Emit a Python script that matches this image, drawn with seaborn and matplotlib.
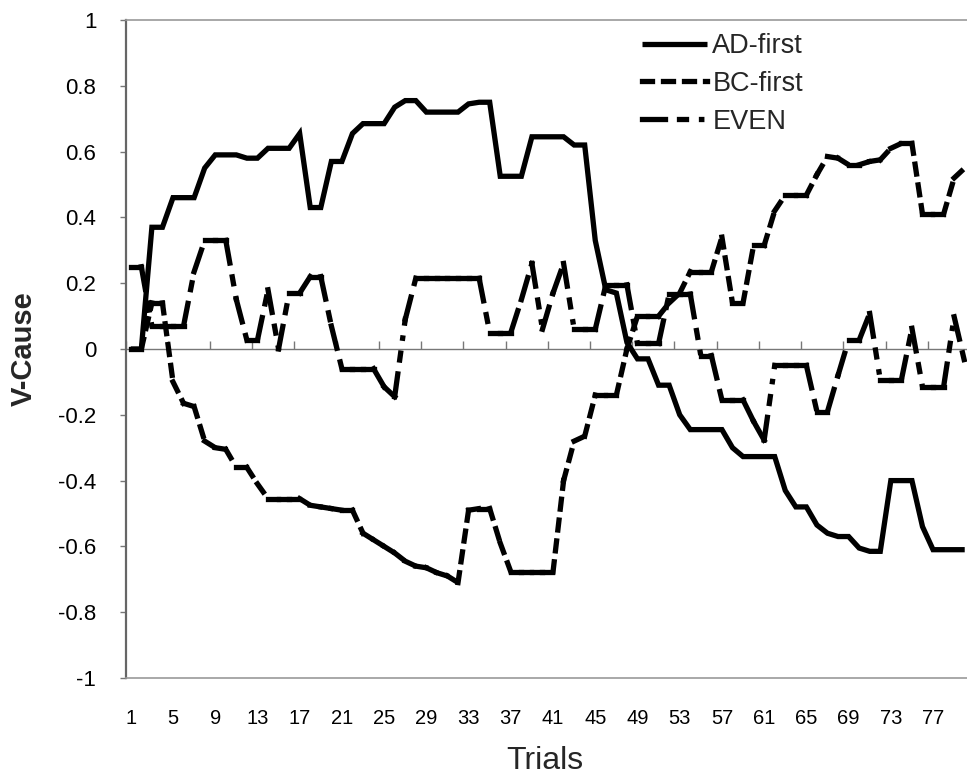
import numpy as np
import pandas as pd
import matplotlib
matplotlib.use("Agg")
import matplotlib.pyplot as plt
import seaborn as sns
from matplotlib.collections import LineCollection
from matplotlib.lines import Line2D

# ---------------- data ----------------
trials = list(range(1, 81))

ad_first = [0.0, 0.0, 0.37, 0.37, 0.46, 0.46, 0.46, 0.55, 0.59, 0.59,
            0.59, 0.58, 0.58, 0.61, 0.61, 0.61, 0.655, 0.43, 0.43, 0.57,
            0.57, 0.655, 0.685, 0.685, 0.685, 0.735, 0.755, 0.755, 0.72, 0.72,
            0.72, 0.72, 0.745, 0.75, 0.75, 0.525, 0.525, 0.525, 0.645, 0.645,
            0.645, 0.645, 0.62, 0.62, 0.33, 0.18, 0.17, 0.02, -0.03, -0.03,
            -0.11, -0.11, -0.2, -0.245, -0.245, -0.245, -0.245, -0.30, -0.327, -0.327,
            -0.327, -0.327, -0.43, -0.48, -0.48, -0.535, -0.56, -0.57, -0.57, -0.605,
            -0.615, -0.615, -0.40, -0.40, -0.40, -0.54, -0.61, -0.61, -0.61, -0.61]

bc_first = [0.0, 0.0, 0.14, 0.14, -0.10, -0.165, -0.175, -0.28, -0.30, -0.305,
            -0.36, -0.36, -0.41, -0.455, -0.455, -0.455, -0.455, -0.475, -0.48, -0.485,
            -0.49, -0.49, -0.56, -0.58, -0.60, -0.62, -0.645, -0.66, -0.665, -0.68,
            -0.69, -0.71, -0.49, -0.485, -0.485, -0.59, -0.677, -0.677, -0.677, -0.677,
            -0.677, -0.40, -0.28, -0.265, -0.14, -0.14, -0.14, 0.0, 0.10, 0.10,
            0.10, 0.14, 0.17, 0.235, 0.235, 0.235, 0.34, 0.14, 0.14, 0.315,
            0.315, 0.42, 0.468, 0.468, 0.468, 0.53, 0.585, 0.58, 0.56, 0.56,
            0.57, 0.575, 0.61, 0.625, 0.625, 0.41, 0.41, 0.41, 0.52, 0.55]

even = [0.25, 0.25, 0.07, 0.07, 0.07, 0.07, 0.235, 0.33, 0.33, 0.33,
        0.15, 0.027, 0.027, 0.18, 0.0, 0.17, 0.17, 0.22, 0.22, 0.07,
        -0.06, -0.06, -0.06, -0.06, -0.115, -0.145, 0.09, 0.215, 0.215, 0.215,
        0.215, 0.215, 0.215, 0.215, 0.05, 0.05, 0.05, 0.15, 0.26, 0.06,
        0.17, 0.26, 0.06, 0.06, 0.06, 0.195, 0.195, 0.195, 0.017, 0.017,
        0.017, 0.167, 0.167, 0.167, -0.02, -0.02, -0.155, -0.155, -0.155, -0.22,
        -0.277, -0.05, -0.05, -0.05, -0.05, -0.19, -0.19, -0.08, 0.027, 0.027,
        0.108, -0.094, -0.094, -0.094, 0.063, -0.115, -0.115, -0.115, 0.098, -0.04]

series_names = ["AD-first", "BC-first", "EVEN"]
x_tick_values = list(range(1, 78, 4))
x_tick_labels = [str(v) for v in x_tick_values]
y_tick_values = [-1, -0.8, -0.6, -0.4, -0.2, 0, 0.2, 0.4, 0.6, 0.8, 1]
y_tick_labels = ["-1", "-0.8", "-0.6", "-0.4", "-0.2", "0", "0.2", "0.4", "0.6", "0.8", "1"]

# ---------------- style ----------------
sns.set_theme(style="white")
plt.rcParams["font.family"] = ["Liberation Sans", "DejaVu Sans"]
plt.rcParams["lines.scale_dashes"] = False

W, H = 967, 779
fig = plt.figure(figsize=(W / 100, H / 100), dpi=100)
ax_left, ax_right, ax_top, ax_bot = 125.5, 970.0, 20.0, 678.0
ax = fig.add_axes([ax_left / W, (H - ax_bot) / H, (ax_right - ax_left) / W, (ax_bot - ax_top) / H])

df = pd.DataFrame({"Trial": trials, "AD-first": ad_first, "BC-first": bc_first, "EVEN": even})

LW = 3.8  # points (about 5 px)
px = 0.72  # points per pixel

# solid series
sns.lineplot(data=df, x="Trial", y="AD-first", ax=ax, color="black", linewidth=LW,
             legend=False, zorder=3)
for ln in ax.get_lines():
    ln.set_solid_joinstyle("miter")
    ln.set_solid_capstyle("butt")

# dashed series: Excel restarts the dash pattern at each point -> one segment per pair of points
def dashed_series(yvals, on_off_px):
    pts = np.column_stack([df["Trial"].to_numpy(float), np.asarray(yvals, float)])
    segs = np.stack([pts[:-1], pts[1:]], axis=1)
    pattern = []
    for i, v in enumerate(on_off_px):
        if i % 2 == 0:
            pattern.append(max(v - 5, 0.3) * px)
        else:
            pattern.append((v + 5) * px)
    lc = LineCollection(segs, colors="black", linewidths=LW,
                        linestyles=[(0, tuple(pattern))], zorder=3)
    lc.set_capstyle("projecting")
    lc.set_joinstyle("miter")
    ax.add_collection(lc)
    return tuple(pattern)

bc_pat = dashed_series(df["BC-first"], (15, 6))
even_pat = dashed_series(df["EVEN"], (28, 9, 12, 10, 3, 10))

# ---------------- axes ----------------
ax.set_xlim(0.5, 80.5)
ax.set_ylim(-1, 1)
ax.set_yticks(y_tick_values)
ax.set_yticklabels(y_tick_labels)
ax.set_xticks(x_tick_values)
ax.set_xticklabels(x_tick_labels)
ax.tick_params(axis="x", length=0, pad=22, labelsize=14.5, colors="black")
ax.tick_params(axis="y", direction="out", length=4, width=1, color="#777777",
               pad=17, labelsize=16, labelcolor="black", left=True)
for side in ["top", "bottom", "right"]:
    ax.spines[side].set_color("#999999")
    ax.spines[side].set_linewidth(1.2)
ax.spines["left"].set_color("#666666")
ax.spines["left"].set_linewidth(1.6)
ax.grid(False)

# category axis drawn through zero, tick marks between categories
zero_ax = ax.secondary_xaxis(0.5)
zero_ax.set_xticks([v - 0.5 for v in x_tick_values])
zero_ax.set_xticklabels([])
zero_ax.tick_params(direction="out", length=6, width=1, color="#777777")
zero_ax.spines["top"].set_color("#777777")
zero_ax.spines["top"].set_linewidth(1.0)
zero_ax.spines["bottom"].set_color("#777777")
zero_ax.spines["bottom"].set_linewidth(1.0)

ax.set_xlabel("Trials", fontsize=23)
ax.xaxis.set_label_coords((545 - ax_left) / (ax_right - ax_left), (ax_bot - 746) / (ax_bot - ax_top))
ax.set_ylabel("V-Cause", fontsize=21, fontweight="bold")
ax.yaxis.set_label_coords((38 - ax_left) / (ax_right - ax_left), 0.5)

# legend
handles = [
    Line2D([], [], color="black", linewidth=LW, solid_capstyle="butt"),
    Line2D([], [], color="black", linewidth=LW, linestyle=(0, bc_pat), dash_capstyle="projecting"),
    Line2D([], [], color="black", linewidth=LW, linestyle=(0, even_pat), dash_capstyle="projecting"),
]
leg = ax.legend(handles, series_names, loc="upper left",
                bbox_to_anchor=(642 / W, 1 - 33 / H), bbox_transform=fig.transFigure,
                frameon=False, fontsize=19.5, handlelength=2.4, handletextpad=0.2,
                labelspacing=0.44, borderpad=0, borderaxespad=0)

fig.savefig("out.png", dpi=100)
